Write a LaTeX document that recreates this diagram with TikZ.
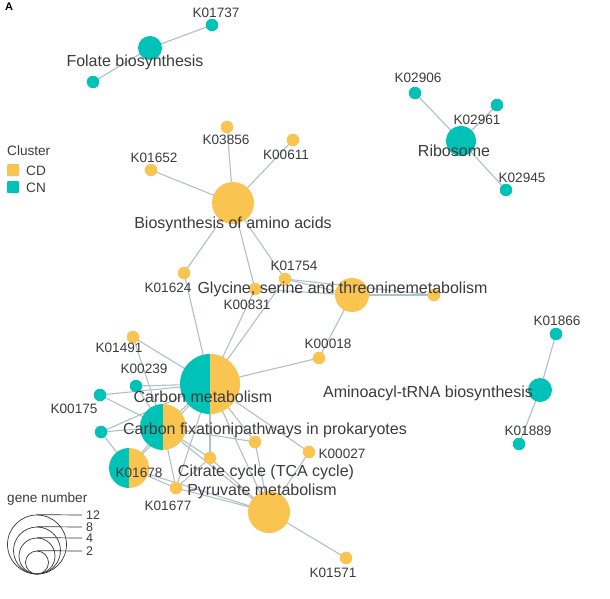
\documentclass[tikz,border=0pt]{standalone}
\usepackage{fontspec}
\setmainfont{Liberation Sans}
\definecolor{cdY}{RGB}{249,196,79}
\definecolor{cnT}{RGB}{0,194,182}
\definecolor{txt}{RGB}{60,60,60}
\definecolor{edgeC}{RGB}{178,192,199}
\pgfdeclarelayer{edges}
\pgfsetlayers{edges,main}
\newcommand{\splithub}[4]{%
  \node[circle,inner sep=0pt,minimum size=#4*2pt] (#1) at (#2,#3) {};
  \fill[cnT] (#2,#3) ++(0,#4) arc[start angle=90,end angle=270,radius=#4] -- cycle;
  \fill[cdY] (#2,#3) ++(0,-#4) arc[start angle=-90,end angle=90,radius=#4] -- cycle;
}
\begin{document}
\begin{tikzpicture}[x=1pt,y=-1pt,
  dot/.style={circle,inner sep=0pt,minimum size=12.5pt},
  cd/.style={fill=cdY},
  cn/.style={fill=cnT},
  klab/.style={text=txt,font=\fontsize{13.6}{15}\selectfont,inner sep=0pt,anchor=base,yshift=-5pt},
  hlab/.style={text=txt,font=\fontsize{16}{18}\selectfont,inner sep=0pt,anchor=base,yshift=-5.7pt},
  leglab/.style={text=txt,font=\fontsize{13.6}{15}\selectfont,inner sep=0pt,anchor=base west},
  numlab/.style={text=txt,font=\fontsize{12.5}{13}\selectfont,inner sep=0pt,anchor=base west,yshift=-4.5pt},
  link/.style={draw=edgeC,line width=1.1pt},
  ring/.style={draw=txt!90!black,line width=0.7pt}]
\useasboundingbox (0,0) rectangle (610,598);

% ---------- nodes ----------
\node[dot,cn,minimum size=24pt] (fol) at (150,48) {};
\node[dot,cn] (k01737) at (212,25) {};
\node[dot,cn] (folS) at (93,82) {};
\node[dot,cn,minimum size=30pt] (rib) at (461,141) {};
\node[dot,cn] (k02906) at (415,93) {};
\node[dot,cn] (k02961) at (497,105) {};
\node[dot,cn] (k02945) at (506,190) {};
\node[dot,cd,minimum size=42pt] (bio) at (233,203) {};
\node[dot,cd] (k03856) at (227,127) {};
\node[dot,cd] (k00611) at (293,140) {};
\node[dot,cd] (k01652) at (151,170) {};
\node[dot,cd] (k01624) at (184,273) {};
\node[dot,cd] (k01754) at (285,279) {};
\node[dot,cd] (k00831) at (255,289) {};
\node[dot,cd,minimum size=34pt] (gly) at (352,295) {};
\node[dot,cd] (glyR) at (434,295) {};
\node[dot,cd] (k00018) at (319,358) {};
\splithub{cm}{210}{384}{30}
\splithub{cf}{163}{427}{23}
\splithub{hk}{129}{468}{20}
\node[dot,cd] (k01491) at (133,337) {};
\node[dot,cn] (k00239) at (136,386) {};
\node[dot,cn] (k00175) at (100,395) {};
\node[dot,cn] (tB) at (101,432) {};
\node[dot,cd] (k01677) at (176,488) {};
\node[dot,cd] (n1) at (255,442) {};
\node[dot,cd] (n2) at (210,458) {};
\node[dot,cd] (k00027) at (309,452) {};
\node[dot,cd,minimum size=42pt] (py) at (269,512) {};
\node[dot,cd] (k01571) at (346,558) {};
\node[dot,cn,minimum size=24pt] (ami) at (540,390) {};
\node[dot,cn] (k01866) at (556,334) {};
\node[dot,cn] (k01889) at (519,444) {};

% ---------- edges ----------
\begin{pgfonlayer}{edges}
\fill[white] (0,0) rectangle (610,598);
\foreach \a/\b in {fol/k01737,fol/folS,
  rib/k02906,rib/k02961,rib/k02945,
  bio/k03856,bio/k00611,bio/k01652,bio/k01624,bio/k00831,bio/k01754,
  k01624/cm,k00831/cm,k01754/cm,
  k01754/gly,k00831/gly,gly/glyR,k01754/glyR,
  gly/k00018,k00018/cm,
  k01491/cm,k01491/cf,k00239/cm,k00239/cf,
  k00175/cm,k00175/cf,tB/cf,tB/cm,tB/hk,
  cm/cf,cm/hk,cm/n1,cm/n2,cm/k00027,cm/py,cm/k01677,
  cf/n1,cf/n2,cf/k01677,cf/py,cf/hk,
  hk/k01677,hk/py,k01677/py,n1/py,n2/py,n2/k01677,k00027/py,
  py/k01571,
  ami/k01866,ami/k01889}
  \draw[link] (\a.center) -- (\b.center);
\end{pgfonlayer}

% ---------- labels ----------
\node[klab] (l01737) at (216,12) {K01737};
\node[hlab] (lfol) at (135,61) {Folate biosynthesis};
\node[klab] (l02906) at (418,77) {K02906};
\node[klab] (l02961) at (477,119) {K02961};
\node[hlab] (lrib) at (454,151) {Ribosome};
\node[klab] (l02945) at (522,177) {K02945};
\node[klab] (l03856) at (226,139) {K03856};
\node[klab] (l00611) at (286,154) {K00611};
\node[klab] (l01652) at (154,157) {K01652};
\node[hlab] (lbio) at (233,223) {Biosynthesis of amino acids};
\node[klab] (l01624) at (168,287) {K01624};
\node[klab] (l01754) at (294,265) {K01754};
\node[klab] (l00831) at (247,304) {K00831};
\node[hlab] (lgly) at (342.5,288) {Glycine, serine and threoninemetabolism};
\node[klab] (l00018) at (328,343) {K00018};
\node[klab] (l01491) at (119,347) {K01491};
\node[klab] (l00239) at (144,368) {K00239};
\node[hlab] (lcm) at (203,397) {Carbon metabolism};
\node[klab] (l00175) at (74,408) {K00175};
\node[hlab] (lcf) at (265,429) {Carbon fixationipathways in prokaryotes};
\node[klab] (l01678) at (139,472) {K01678};
\node[klab] (l00027) at (342,453) {K00027};
\node[hlab] (ltca) at (266,471) {Citrate cycle (TCA cycle)};
\node[hlab] (lpy) at (262,490) {Pyruvate metabolism};
\node[klab] (l01677) at (168,505) {K01677};
\node[klab] (l01571) at (333,572) {K01571};
\node[hlab] (lami) at (428,392) {Aminoacyl-tRNA biosynthesis};
\node[klab] (l01866) at (557,320) {K01866};
\node[klab] (l01889) at (528,430) {K01889};

% ---------- legend ----------
\node[anchor=base west,inner sep=0pt,text=black,font=\bfseries\fontsize{11}{12}\selectfont] (panelA) at (5,10.5) {A};
\node[leglab] (lcluster) at (7,155) {Cluster};
\node[fill=cdY,inner sep=0pt,minimum size=12pt,rounded corners=1pt] (sqCD) at (13,170) {};
\node[fill=cnT,inner sep=0pt,minimum size=12pt,rounded corners=1pt] (sqCN) at (13,187) {};
\node[leglab] (lCD) at (26,175) {CD};
\node[leglab] (lCN) at (26,192) {CN};
\node[leglab] (lgene) at (7,502) {gene number};
\foreach \r/\v/\n in {29.5/12/a,23.5/8/b,18/4/c,11.5/2/d}{
  \node[circle,inner sep=0pt,minimum size=2*\r pt,ring] (ring\n) at (37,574-\r) {};
  \coordinate (rend\n) at (82,574-2*\r);
  \draw[ring] (ring\n.north) -- (rend\n);
  \node[numlab] (rlab\n) at (86,574-2*\r) {\v};
}
\end{tikzpicture}
\end{document}
